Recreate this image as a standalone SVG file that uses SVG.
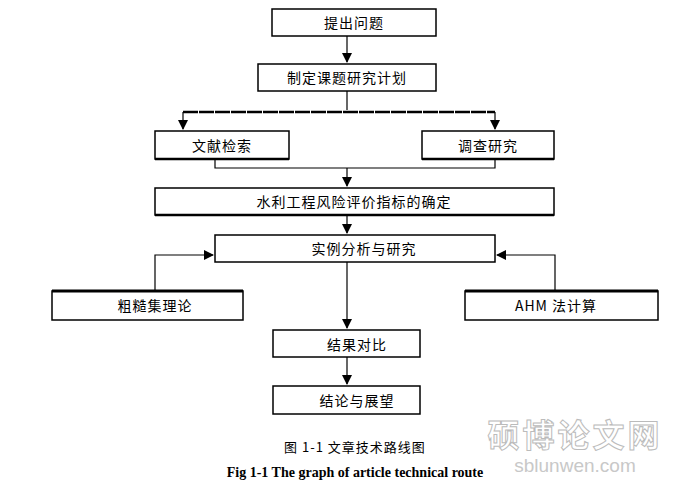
<svg xmlns="http://www.w3.org/2000/svg" width="677" height="485" viewBox="0 0 677 485">
<style>
.b{fill:#fff;stroke:#000;stroke-width:1.5}
.t{font-family:"Noto Sans CJK SC","Liberation Serif",serif;font-size:14px;text-anchor:middle;letter-spacing:1px}
.c{fill:none;stroke:#000;stroke-width:1.2}
</style>
<defs><marker id="a" markerWidth="10" markerHeight="10" refX="9" refY="5" orient="auto" markerUnits="userSpaceOnUse"><path d="M0,0L10,5L0,10z"/></marker></defs>
<rect width="677" height="485" fill="#fff"/>
<g id="connectors">
<path class="c" d="M347,36V62" marker-end="url(#a)"/>
<path class="c" d="M347,91V110"/>
<path d="M183,112H495" stroke="#000" stroke-width="2.5" stroke-dasharray="15,1"/>
<path class="c" d="M183,112V129" marker-end="url(#a)"/>
<path class="c" d="M495,112V129" marker-end="url(#a)"/>
<path class="c" d="M215,159V168H495V159"/>
<path class="c" d="M347,168V186" marker-end="url(#a)"/>
<path class="c" d="M347,215V233" marker-end="url(#a)"/>
<path class="c" d="M155,291V255H213" marker-end="url(#a)"/>
<path class="c" d="M555,291V255H497" marker-end="url(#a)"/>
<path class="c" d="M347,262V328" marker-end="url(#a)"/>
<path class="c" d="M347,357V384" marker-end="url(#a)"/>
</g>
<g id="n1"><rect class="b" x="272" y="9" width="164" height="27"/><text class="t" x="354" y="28">提出问题</text></g>
<g id="n2"><rect class="b" x="258" y="64" width="178" height="27"/><text class="t" x="347" y="83">制定课题研究计划</text></g>
<g id="n3"><rect class="b" x="155" y="131" width="134" height="28"/><path d="M155,159H289" stroke="#000" stroke-width="2.5"/><text class="t" x="222" y="151">文献检索</text></g>
<g id="n4"><rect class="b" x="422" y="131" width="132" height="28"/><path d="M422,159H554" stroke="#000" stroke-width="2.5"/><text class="t" x="488" y="151">调查研究</text></g>
<g id="n5"><rect class="b" x="155" y="188" width="399" height="27"/><path d="M155,215H554" stroke="#000" stroke-width="2.5"/><text class="t" x="354" y="207">水利工程风险评价指标的确定</text></g>
<g id="n6"><rect class="b" x="215" y="235" width="280" height="27"/><text class="t" x="364" y="254">实例分析与研究</text></g>
<g id="n7"><rect class="b" x="52" y="291" width="191" height="29"/><path d="M52,291H243" stroke="#000" stroke-width="3"/><text class="t" x="155" y="311">粗糙集理论</text></g>
<g id="n8"><rect class="b" x="465" y="291" width="193" height="29"/><path d="M465,291H658" stroke="#000" stroke-width="3"/><text class="t" x="556" y="311">AHM 法计算</text></g>
<g id="n9"><rect class="b" x="273" y="330" width="147" height="27"/><text class="t" x="357" y="350">结果对比</text></g>
<g id="n10"><rect class="b" x="273" y="386" width="147" height="28"/><text class="t" x="357" y="406">结论与展望</text></g>
<text class="t" x="355" y="452" style="font-size:13px">图 1-1  文章技术路线图</text>
<text x="355" y="477" text-anchor="middle" font-family="Liberation Serif,serif" font-size="14" font-weight="bold">Fig 1-1 The graph of article technical route</text>
<text x="575" y="447" text-anchor="middle" font-family="Noto Sans CJK SC,sans-serif" font-size="32" font-weight="bold" fill="none" stroke="#bbb" stroke-width="1" letter-spacing="3">硕博论文网</text>
<text x="575" y="472" text-anchor="middle" font-family="Liberation Sans,sans-serif" font-size="19" fill="#c8c8c8">sblunwen.com</text>
</svg>
